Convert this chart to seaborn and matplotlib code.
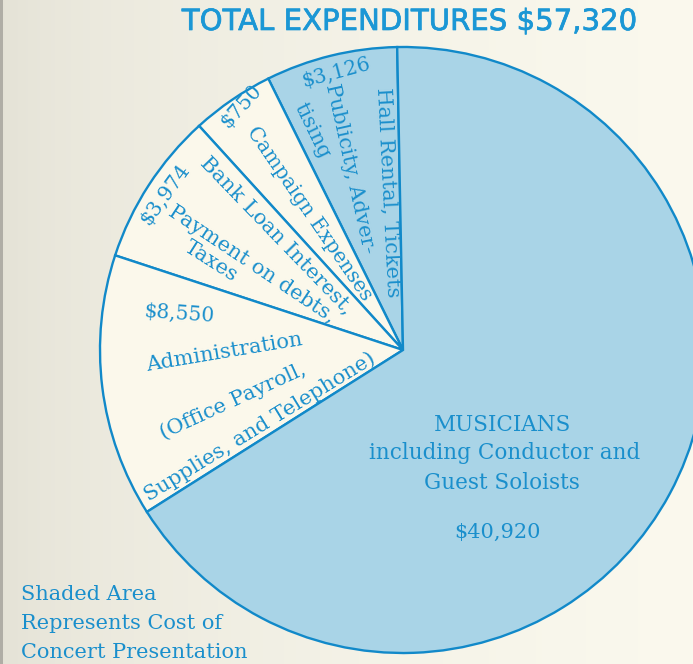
import numpy as np
import seaborn as sns
import matplotlib.pyplot as plt
import matplotlib.patheffects as pe

# expenditure items, in the order the wedges run (counter-clockwise from the top)
items = ["Publicity", "Campaign", "Bank Loan", "Administration", "Musicians"]
amounts = [3126, 750, 3974, 8550, 40920]
# wedge sizes as drawn on the original sheet (degrees), not proportional to amounts
drawn_deg = [25.3, 15.9, 29.5, 50.5, 238.8]
shaded = [True, False, False, False, True]

W, H = 693, 664
line_c = "#1189c9"
text_c = "#1a8fcc"
blue_fill = "#a9d4e7"
paper = "#fbf8eb"

sns.set_theme(style="white")
plt.rcParams["font.family"] = ["DejaVu Serif"]

fig = plt.figure(figsize=(W / 100, H / 100), dpi=100)
ax = fig.add_axes([0, 0, 1, 1])

# scanned paper background: greyish at the binding, creamier to the right
t = np.linspace(0, 1, W)
left = np.array([226, 224, 212]) / 255
right = np.array([251, 249, 238]) / 255
grad = left + (right - left) * np.sqrt(t)[:, None]
grad[:3] = np.array([175, 173, 165]) / 255
ax.imshow(grad[None, :, :], extent=(0, W, 0, H), aspect="auto", zorder=0)

colors = [blue_fill if s else paper for s in shaded]
ax.pie(drawn_deg, startangle=91.1, counterclock=True, center=(403, H - 350),
       radius=303, colors=colors, frame=True,
       wedgeprops=dict(edgecolor=line_c, linewidth=1.7, zorder=2))

ax.set_xlim(0, W)
ax.set_ylim(0, H)
ax.set_axis_off()


def put(x, y, s, rot=0, size=15, **kw):
    ax.text(x, H - y, s, rotation=rot, ha="center", va="center",
            rotation_mode="anchor", color=text_c, fontsize=size, zorder=5, **kw)


money = [f"${v:,}" for v in amounts]

# Publicity wedge
put(336, 73, money[0], 15, 14.5)
put(350, 169, "Publicity, Adver-", -77.5)
put(312, 131, "tising", -64)
put(388, 193, "Hall Rental, Tickets", -87.2)
# Campaign wedge
put(241, 106, money[1], 48, 14.5)
put(309, 214, "Campaign Expenses", -55.5, 14.5)
# Bank loan wedge
put(165, 194, money[2], 54, 14.5)
put(276, 236, "Bank Loan Interest,", -46)
put(252, 264, "Payment on debts,", -33.6)
put(211, 261, "Taxes", -32.5)
# Administration wedge
put(179, 314, money[3], -4, 14.5)
put(224, 353, "Administration", 9.5)
put(233, 401, "(Office Payroll,", 24.6)
put(260, 427, "Supplies, and Telephone)", 31.5)
# Musicians wedge
put(503, 425, "MUSICIANS", 0, 15.5)
put(505, 453, "including Conductor and", 0, 15.5)
put(502, 483, "Guest Soloists", 0, 15.5)
put(498, 532, money[4], 0, 15)

for i, line in enumerate(["Shaded Area", "Represents Cost of", "Concert Presentation"]):
    ax.text(21, H - (595 + 28.5 * i), line, ha="left", va="center",
            color=text_c, fontsize=15, zorder=5)

ax.text(409, H - 22, f"TOTAL EXPENDITURES ${sum(amounts):,}", ha="center",
        va="center", color="#1b97d5", fontsize=21,
        family="DejaVu Sans", zorder=5,
        path_effects=[pe.withStroke(linewidth=0.5, foreground="#1b97d5")])

fig.savefig("out.png", dpi=100)
